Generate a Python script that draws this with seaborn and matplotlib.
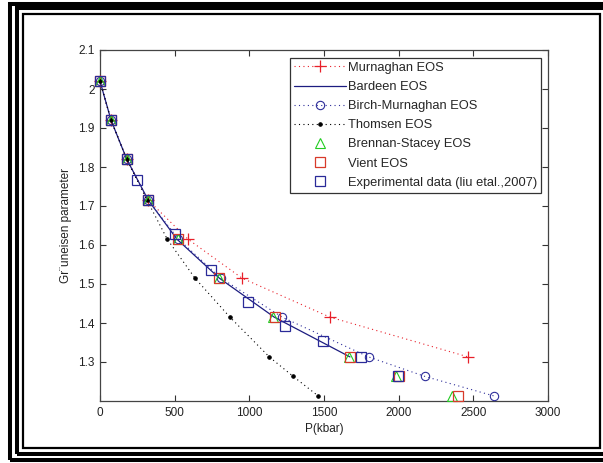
import matplotlib
matplotlib.use("Agg")
import matplotlib.pyplot as plt
from matplotlib.patches import Rectangle
import numpy as np
import pandas as pd
import seaborn as sns

# gamma levels shared by the model EOS curves
gamma_levels = [2.02, 1.92, 1.82, 1.715, 1.615, 1.515, 1.415, 1.313, 1.263, 1.213]

p_murnaghan = [0, 74, 179, 323, 589, 951, 1540, 2466]
g_murnaghan = gamma_levels[:8]

p_bardeen = [0, 74, 179, 323, 515, 799, 1167, 1674]
g_bardeen = gamma_levels[:8]

p_birch = [0, 74, 179, 323, 525, 810, 1220, 1799, 2176, 2638]
g_birch = gamma_levels

p_thomsen = [0, 74, 179, 315, 450, 636, 870, 1134, 1294, 1461]
g_thomsen = gamma_levels

p_brennan = [0, 74, 179, 323, 520, 795, 1160, 1665, 1985, 2354]
g_brennan = gamma_levels

p_vient = [0, 74, 179, 323, 525, 800, 1170, 1674, 2005, 2399]
g_vient = gamma_levels

p_exp = [0, 74, 179, 248, 323, 502, 743, 993, 1240, 1495, 1748, 1997]
g_exp = [2.02, 1.92, 1.82, 1.767, 1.715, 1.627, 1.536, 1.455, 1.393, 1.354, 1.313, 1.263]

x_ticks = [0, 500, 1000, 1500, 2000, 2500, 3000]
y_ticks = [1.3, 1.4, 1.5, 1.6, 1.7, 1.8, 1.9, 2.0, 2.1]
y_tick_labels = ["1.3", "1.4", "1.5", "1.6", "1.7", "1.8", "1.9", "2", "2.1"]


def main():
    sns.set_theme(style="ticks")
    plt.rcParams["font.family"] = ["Liberation Sans", "DejaVu Sans"]
    plt.rcParams["font.size"] = 8.5

    fig = plt.figure(figsize=(6.03, 4.63), dpi=100)
    W, H = 603.0, 463.0
    ax = fig.add_axes([100 / W, 1 - 401 / H, 448 / W, 351 / H])

    dot = (0, (1, 3))
    series = [
        (p_murnaghan, g_murnaghan, dict(color="#e8202a", linestyle=dot, linewidth=0.8, marker="+",
                                        markersize=8, markeredgewidth=0.9, markeredgecolor="#e8202a"),
         "Murnaghan EOS"),
        (p_bardeen, g_bardeen, dict(color="#1c1c80", linestyle="-", linewidth=0.9), "Bardeen EOS"),
        (p_birch, g_birch, dict(color="#2e2e9a", linestyle=dot, linewidth=0.8, marker="o", markersize=6,
                                markerfacecolor="none", markeredgecolor="#2e2e9a", markeredgewidth=0.8),
         "Birch-Murnaghan EOS"),
        (p_thomsen, g_thomsen, dict(color="black", linestyle=dot, linewidth=0.8, marker=".", markersize=5,
                                    markeredgecolor="black", markerfacecolor="black"), "Thomsen EOS"),
        (p_brennan, g_brennan, dict(color="#22cc22", linestyle="none", marker="^", markersize=7,
                                    markerfacecolor="none", markeredgecolor="#22cc22", markeredgewidth=0.8),
         "Brennan-Stacey EOS"),
        (p_vient, g_vient, dict(color="#d83a2a", linestyle="none", marker="s", markersize=7,
                                markerfacecolor="none", markeredgecolor="#d83a2a", markeredgewidth=0.9),
         "Vient EOS"),
        (p_exp, g_exp, dict(color="#2a2a98", linestyle="none", marker="s", markersize=7.5,
                            markerfacecolor="none", markeredgecolor="#2a2a98", markeredgewidth=0.9),
         "Experimental data (liu etal.,2007)"),
    ]
    for px, gy, style, label in series:
        frame = pd.DataFrame({"P": px, "G": gy})
        sns.lineplot(data=frame, x="P", y="G", sort=False, errorbar=None, ax=ax, label=label,
                     clip_on=False, zorder=5, **style)

    ax.set_xlim(0, 3000)
    ax.set_ylim(1.2, 2.1)
    ax.set_xticks(x_ticks)
    ax.set_yticks(y_ticks)
    ax.set_yticklabels(y_tick_labels)
    ax.tick_params(direction="in", length=4, width=0.8, top=True, right=True, colors="#333333",
                   labelcolor="#222222", labelsize=8.5, pad=4)
    for spine in ax.spines.values():
        spine.set_visible(True)
        spine.set_color("#444444")
        spine.set_linewidth(0.9)
    ax.set_xlabel("P(kbar)", fontsize=8.5, color="#222222", labelpad=3)
    ax.set_ylabel("Gr\u00a8uneisen parameter", fontsize=8.5, color="#222222", labelpad=4)

    leg = ax.legend(loc="upper right", bbox_to_anchor=(441 / 448, (401 - 58) / 351), borderaxespad=0,
                    frameon=True, fancybox=False, fontsize=9.3, handlelength=4.0, handletextpad=0.15,
                    labelspacing=0.55, borderpad=0.3, framealpha=1)
    leg.get_frame().set_edgecolor("#333333")
    leg.get_frame().set_linewidth(0.9)
    leg.set_zorder(20)

    # triple border around the figure
    def frame_rect(x0, y0, x1, y1, lw):
        fig.patches.append(Rectangle((x0 / W, 1 - y1 / H), (x1 - x0) / W, (y1 - y0) / H,
                                     transform=fig.transFigure, fill=False, edgecolor="black",
                                     linewidth=lw, zorder=10))

    frame_rect(23, 14, 600, 448, 1.6)
    frame_rect(16.5, 8, 612, 453.5, 2.9)
    frame_rect(10, 4, 618, 459.5, 2.9)

    fig.savefig("out.png", dpi=100, facecolor="white")
    plt.close(fig)


if __name__ == "__main__":
    main()
